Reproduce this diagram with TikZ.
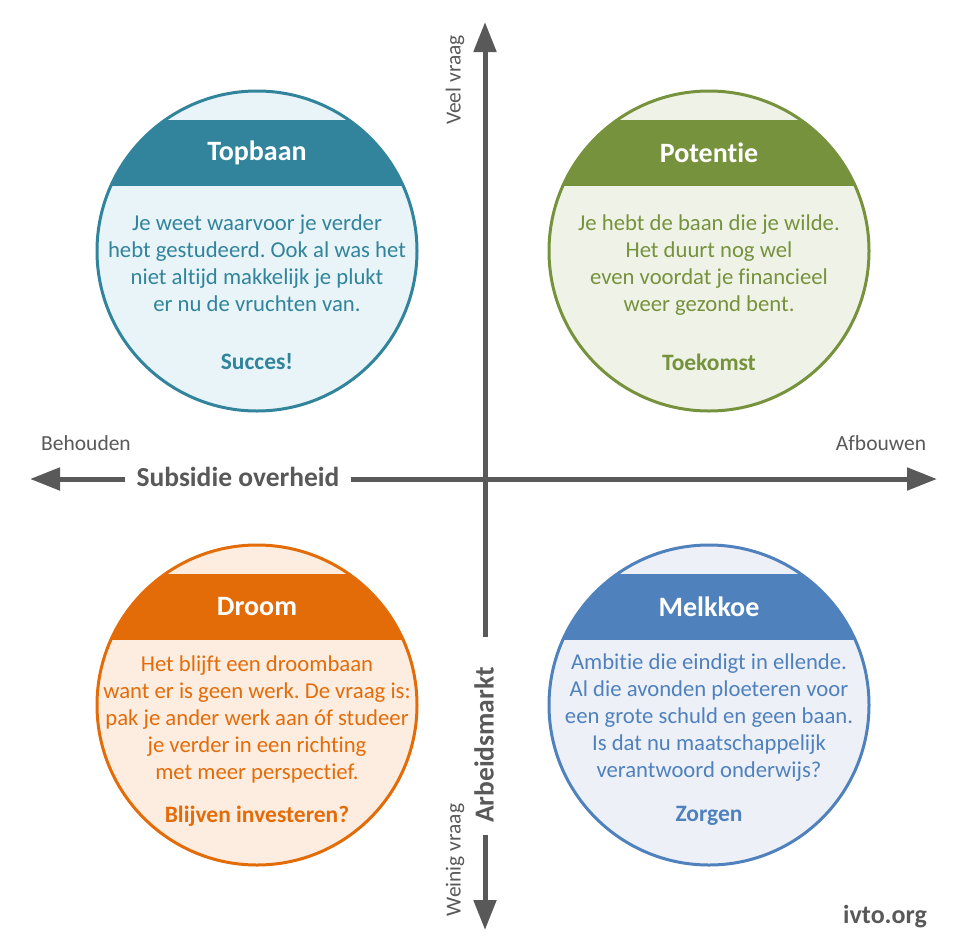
\documentclass[tikz,border=0pt]{standalone}
\usepackage{fontspec}
\setmainfont[RawFeature={-liga}]{Carlito}
\frenchspacing
\usetikzlibrary{arrows.meta}
\definecolor{axisgray}{HTML}{595959}
\definecolor{tealc}{HTML}{31849B}
\definecolor{tealf}{HTML}{E8F4F8}
\definecolor{greenc}{HTML}{76923C}
\definecolor{greenf}{HTML}{EFF3E7}
\definecolor{orangec}{HTML}{E36C09}
\definecolor{orangef}{HTML}{FDEDE0}
\definecolor{bluec}{HTML}{4F81BD}
\definecolor{bluef}{HTML}{EDF1F7}
\tikzset{
  bubble/.style={circle, minimum size=320pt, inner sep=0pt, line width=3pt},
  title/.style={font=\fontsize{28}{32}\selectfont\bfseries, text=white},
  body/.style={font=\fontsize{22.7}{27}\selectfont, align=center},
  tag/.style={font=\fontsize{23.5}{27}\selectfont\bfseries},
  axis/.style={line width=5pt, draw=axisgray, -{Triangle[length=30pt,width=22pt]}},
  endlabel/.style={font=\fontsize{21.5}{25}\selectfont, text=axisgray},
  axlabel/.style={font=\fontsize{27.5}{31}\selectfont\bfseries, text=axisgray},
}
\begin{document}
\begin{tikzpicture}[x=1pt,y=-1pt]
\useasboundingbox (0,0) rectangle (972,951);
\fill[white] (0,0) rectangle (972,951);

% ---- circles ----
\newcommand{\quadbubble}[6]{% name, x, y, stroke, fill, title
  \node[bubble, fill=#5] (#1) at (#2,#3) {};
  \begin{scope}
    \clip (#2,#3) circle (160);
    \fill[#4] (#2-170,#3-131) rectangle (#2+170,#3-65);
  \end{scope}
  \node[bubble, draw=#4] (#1c) at (#2,#3) {};
  \node[title] (#1t) at (#2,#3-98) {#6};
}
\quadbubble{tb}{257}{251}{tealc}{tealf}{Topbaan}
\quadbubble{pt}{709}{251}{greenc}{greenf}{Potentie}
\quadbubble{dr}{257}{705}{orangec}{orangef}{Droom}
\quadbubble{mk}{709}{705}{bluec}{bluef}{Melkkoe}

\node[body, text=tealc] (tbb) at (257,263) {Je weet waarvoor je verder\\hebt gestudeerd. Ook al was het\\niet altijd makkelijk je plukt\\er nu de vruchten van.};
\node[tag, text=tealc] (tbs) at (257,362) {Succes!};

\node[body, text=greenc] (ptb) at (709,265) {Je hebt de baan die je wilde.\\Het duurt nog wel\\even voordat je financieel\\weer gezond bent.};
\node[tag, text=greenc] (pts) at (709,362) {Toekomst};

\node[body, text=orangec] (drb) at (257,719) {Het blijft een droombaan\\want er is geen werk. De vraag is:\\pak je ander werk aan óf studeer\\je verder in een richting\\met meer perspectief.};
\node[tag, text=orangec] (drs) at (257,816) {Blijven investeren?};

\node[body, text=bluec] (mkb) at (709,718) {Ambitie die eindigt in ellende.\\Al die avonden ploeteren voor\\een grote schuld en geen baan.\\Is dat nu maatschappelijk\\verantwoord onderwijs?};
\node[tag, text=bluec] (mks) at (709,816) {Zorgen};

% ---- axes ----
\node[axlabel] (sub) at (238,477) {Subsidie overheid};
\coordinate (left) at (30,479);
\coordinate (right) at (937,479);
\draw[axis] (sub.west) ++(-8,2) -- (left);
\draw[axis] (sub.east) ++(8,2) -- (right);

\node[axlabel, rotate=90] (arb) at (484,745) {Arbeidsmarkt};
\coordinate (top) at (485,22);
\coordinate (bot) at (485,930);
\draw[axis] (485,637) -- (top);
\draw[axis] (485,835) -- (bot);

\node[endlabel] (beh) at (86,443) {Behouden};
\node[endlabel] (afb) at (881,443) {Afbouwen};
\node[endlabel, rotate=90] (veel) at (455,80) {Veel vraag};
\node[endlabel, rotate=90] (wein) at (455,860) {Weinig vraag};

\node[font=\fontsize{26}{30}\selectfont\bfseries, text=axisgray] (logo) at (885,917) {ivto.org};
\end{tikzpicture}
\end{document}
